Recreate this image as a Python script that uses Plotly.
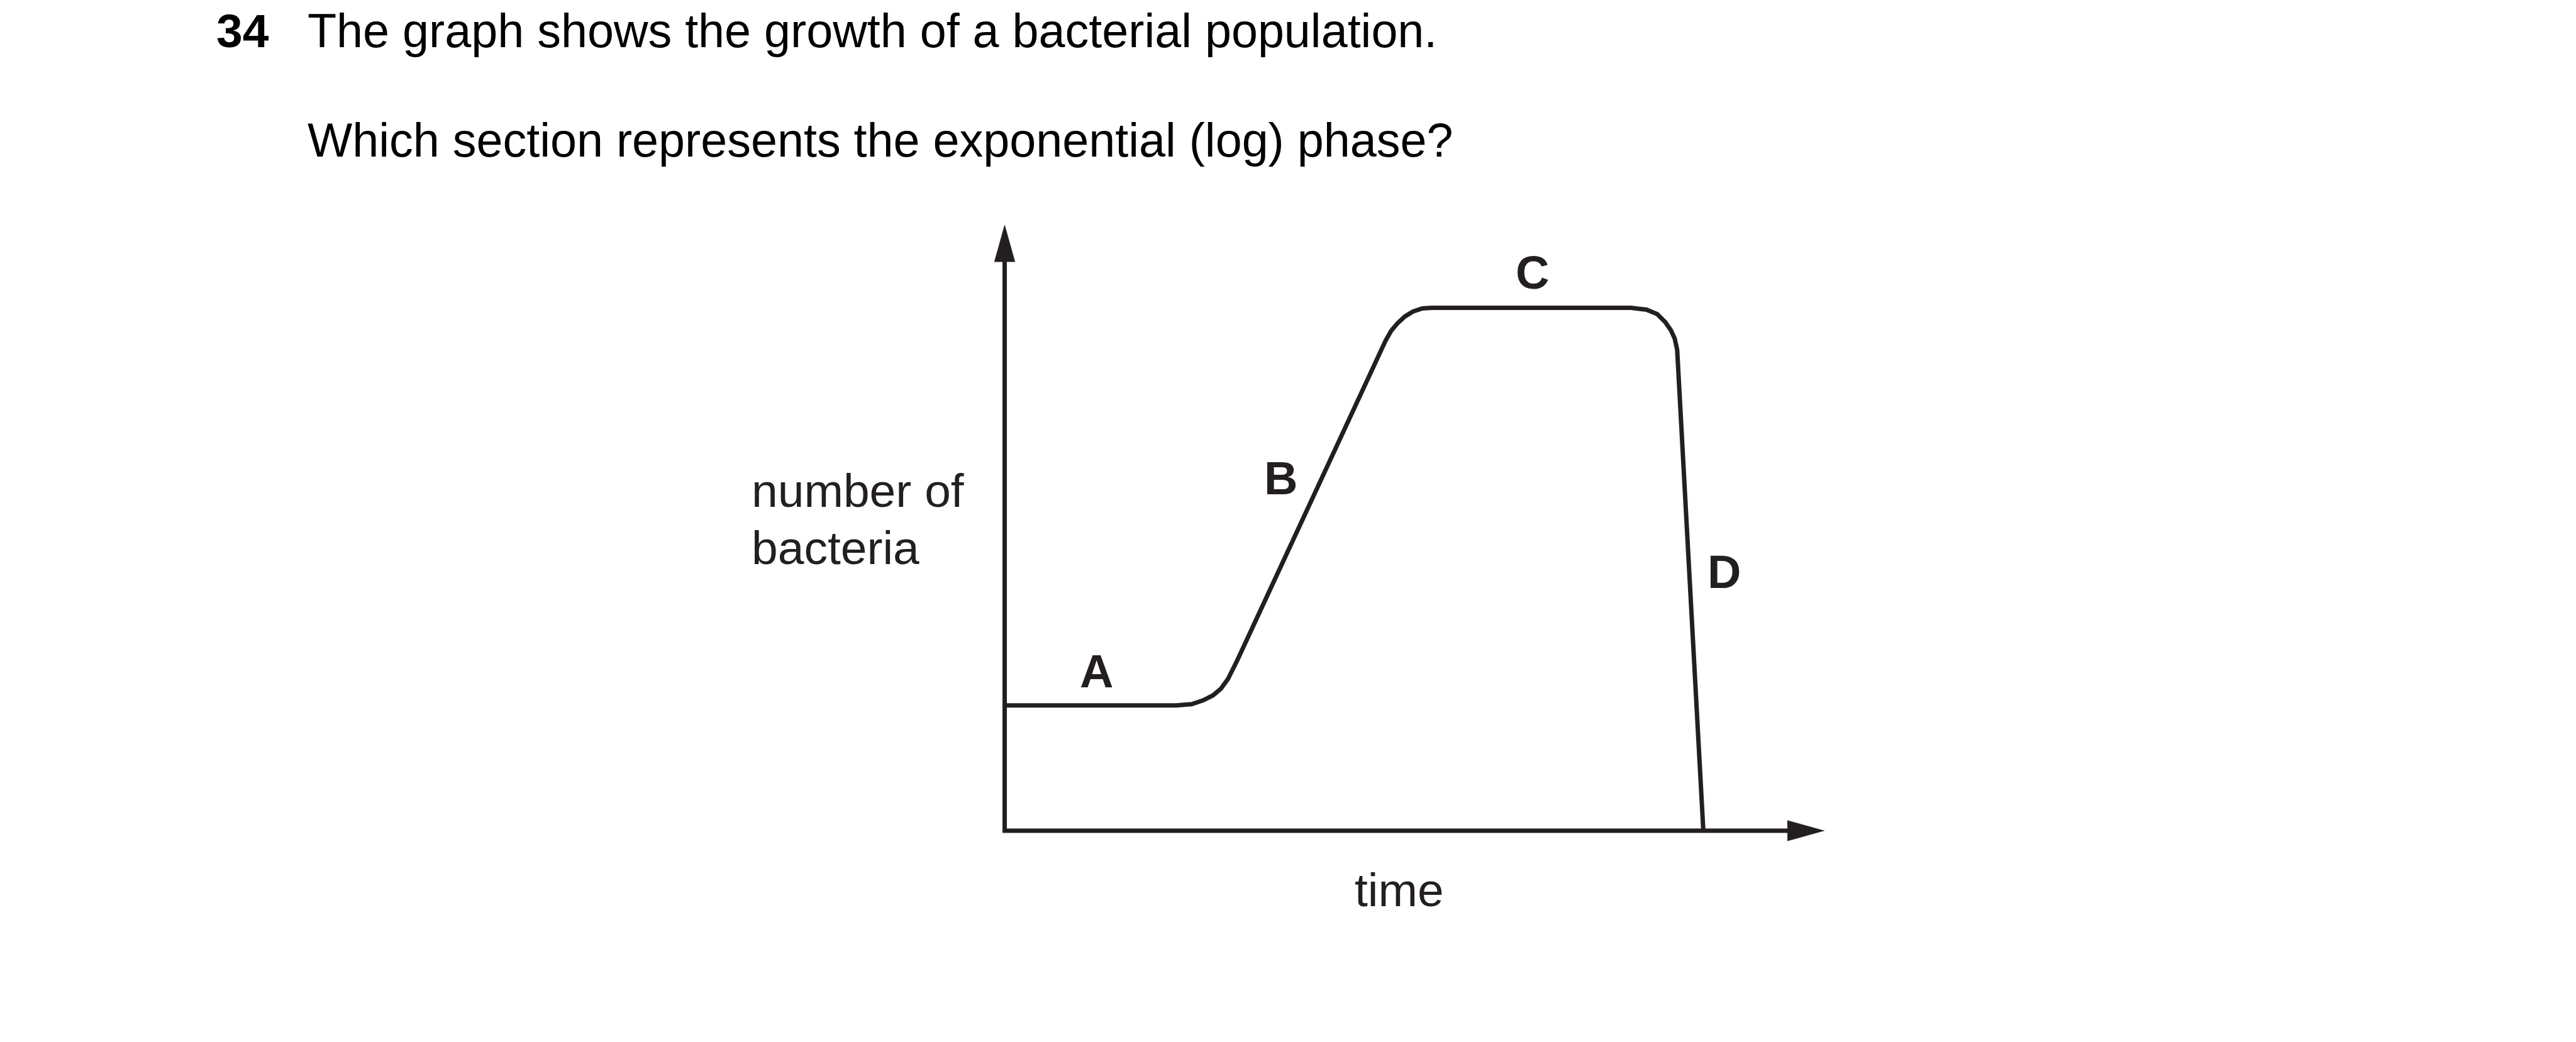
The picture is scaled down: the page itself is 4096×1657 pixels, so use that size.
import plotly.graph_objects as go

# ---- data (time units, population units) ----
time = [0.00, 2.75, 3.00, 3.18, 3.34, 3.47, 3.58, 3.66, 3.73,
        6.11, 6.20, 6.30, 6.42, 6.55, 6.70, 6.85,
        10.05, 10.30, 10.47, 10.60, 10.69, 10.75, 10.79, 11.21]
bacteria = [2.01, 2.01, 2.03, 2.09, 2.17, 2.28, 2.43, 2.58, 2.73,
            7.86, 8.02, 8.14, 8.25, 8.33, 8.38, 8.39,
            8.39, 8.36, 8.29, 8.16, 8.03, 7.90, 7.72, 0.00]

phase_labels = ["A", "B", "C", "D"]
phase_x = [1.47, 4.43, 8.47, 11.54]
phase_y = [2.56, 5.66, 8.96, 4.15]

x_title = "time"
y_title_lines = ["number of", "bacteria"]
question_number = "34"
question_lines = ["The graph shows the growth of a bacterial population.",
                  "Which section represents the exponential (log) phase?"]

# ---- axis extents ----
x_axis_end = 13.15
y_axis_end = 9.72

INK = "#231f20"
FONT = "Liberation Sans, Arial, sans-serif"
LW = 7
AR_LEN = 0.59
AR_HALF = 0.165

fig = go.Figure()

# axes shafts
fig.add_trace(go.Scatter(
    x=[0, 0, x_axis_end - AR_LEN + 0.02],
    y=[y_axis_end - AR_LEN + 0.02, 0, 0],
    mode="lines", line=dict(color=INK, width=LW), hoverinfo="skip"))
# arrowheads
fig.add_trace(go.Scatter(
    x=[-AR_HALF, 0, AR_HALF, -AR_HALF],
    y=[y_axis_end - AR_LEN, y_axis_end, y_axis_end - AR_LEN, y_axis_end - AR_LEN],
    mode="lines", fill="toself", fillcolor=INK, line=dict(color=INK, width=0.5),
    hoverinfo="skip"))
fig.add_trace(go.Scatter(
    x=[x_axis_end - AR_LEN, x_axis_end, x_axis_end - AR_LEN, x_axis_end - AR_LEN],
    y=[AR_HALF, 0, -AR_HALF, AR_HALF],
    mode="lines", fill="toself", fillcolor=INK, line=dict(color=INK, width=0.5),
    hoverinfo="skip"))

# growth curve
fig.add_trace(go.Scatter(
    x=time, y=bacteria, mode="lines",
    line=dict(color=INK, width=LW, shape="linear"),
    hoverinfo="skip"))

ann = []
for lab, lx, ly in zip(phase_labels, phase_x, phase_y):
    ann.append(dict(x=lx, y=ly, xref="x", yref="y", text=lab, showarrow=False,
                    xanchor="center", yanchor="middle",
                    font=dict(family=FONT, size=74, color=INK, weight="bold")))

ann.append(dict(x=6.33, y=-0.95, xref="x", yref="y", text=x_title, showarrow=False,
                xanchor="center", yanchor="middle",
                font=dict(family=FONT, size=75, color=INK)))
for line, ly in zip(y_title_lines, [5.46, 4.54]):
    ann.append(dict(x=-4.08, y=ly, xref="x", yref="y", text=line, showarrow=False,
                    xanchor="left", yanchor="middle",
                    font=dict(family=FONT, size=75, color=INK)))

ann.append(dict(x=-12.67, y=12.84, xref="x", yref="y", text=question_number,
                showarrow=False, xanchor="left", yanchor="middle",
                font=dict(family=FONT, size=75, color="#000000", weight="bold")))
for line, ly in zip(question_lines, [12.84, 11.08]):
    ann.append(dict(x=-11.21, y=ly, xref="x", yref="y", text=line, showarrow=False,
                    xanchor="left", yanchor="middle",
                    font=dict(family=FONT, size=75.5, color="#000000")))

fig.update_layout(
    width=4096, height=1657, autosize=False,
    margin=dict(l=0, r=0, t=0, b=0, pad=0),
    paper_bgcolor="white", plot_bgcolor="white",
    showlegend=False,
    xaxis=dict(range=[-16.12, 25.212], visible=False, fixedrange=True),
    yaxis=dict(range=[-3.3905, 13.33], visible=False, fixedrange=True),
    annotations=ann,
)

fig.write_html("out.html", config={"displayModeBar": False},
               post_script="document.body.style.margin='0';document.body.style.overflow='hidden';")
